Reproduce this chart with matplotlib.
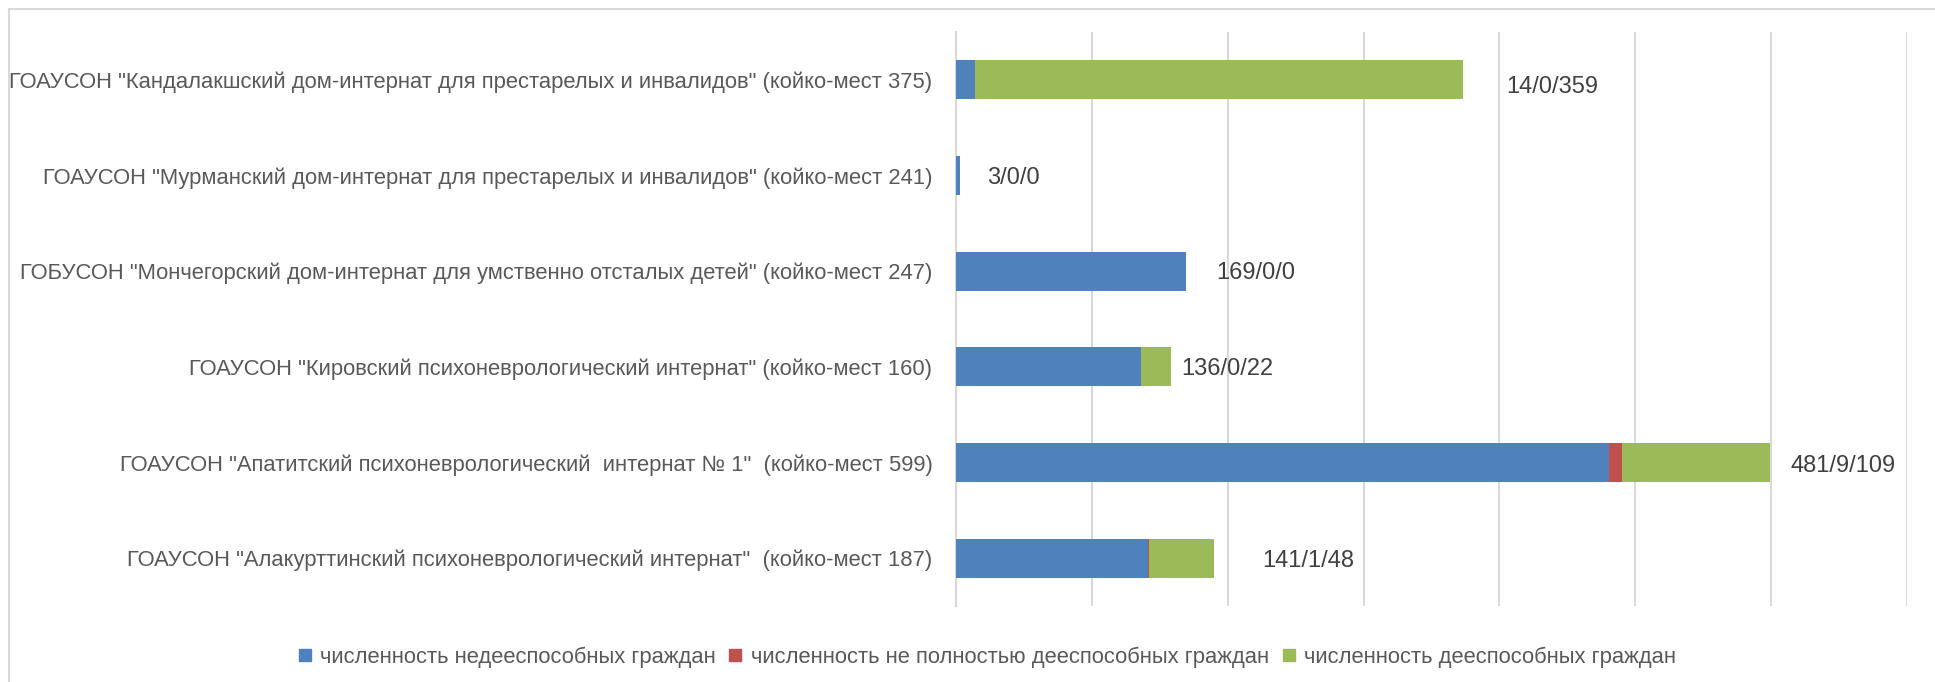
import matplotlib
matplotlib.use("Agg")
import matplotlib.pyplot as plt
from matplotlib.lines import Line2D
import numpy as np

plt.rcParams['font.family'] = ['Liberation Sans', 'DejaVu Sans']

categories = [
    'ГОАУСОН "Кандалакшский дом-интернат для престарелых и инвалидов" (койко-мест 375)',
    'ГОАУСОН "Мурманский дом-интернат для престарелых и инвалидов" (койко-мест 241)',
    'ГОБУСОН "Мончегорский дом-интернат для умственно отсталых детей" (койко-мест 247)',
    'ГОАУСОН "Кировский психоневрологический интернат" (койко-мест 160)',
    'ГОАУСОН "Апатитский психоневрологический  интернат № 1"  (койко-мест 599)',
    'ГОАУСОН "Алакурттинский психоневрологический интернат"  (койко-мест 187)',
]
incapable = [14, 3, 169, 136, 481, 141]
partly_capable = [0, 0, 0, 0, 9, 1]
capable = [359, 0, 0, 22, 109, 48]
series_names = [
    'численность недееспособных граждан',
    'численность не полностью дееспособных граждан',
    'численность дееспособных граждан',
]
colors = ['#4F81BD', '#C0504D', '#9BBB59']
# label offsets to the right of each bar end (pixels), as placed in the original
label_offsets_px = [44, 27, 31, 11, 21, 48]
label_dy_px = [-7, -2, -2, -2, -4, -3]

W, H = 1935, 682
fig = plt.figure(figsize=(W / 100, H / 100), dpi=100)
ax = fig.add_axes([956 / W, 1 - 606 / H, (1907 - 956) / W, (606 - 32) / H])

y = np.arange(len(categories))
a = np.array(incapable)
b = np.array(partly_capable)
c = np.array(capable)
bh = 0.41
ax.barh(y, a, height=bh, color=colors[0], zorder=3)
ax.barh(y, b, left=a, height=bh, color=colors[1], zorder=3)
ax.barh(y, c, left=a + b, height=bh, color=colors[2], zorder=3)

ax.set_xlim(0, 700)
ax.set_ylim(5.5, -0.5)
ax.set_xticks(np.arange(0, 701, 100))
ax.xaxis.grid(True, color='#D9D9D9', linewidth=1.5, zorder=0)
ax.tick_params(axis='x', length=0, labelbottom=False)
ax.tick_params(axis='y', length=0, pad=17, labelsize=15.8, labelcolor='#595959')
ax.set_yticks(y)
ax.set_yticklabels(categories)
for s in ['top', 'right', 'bottom']:
    ax.spines[s].set_visible(False)
ax.spines['left'].set_color('#D9D9D9')
ax.spines['left'].set_linewidth(1.5)

totals = a + b + c
for i in range(len(categories)):
    ax.annotate(f'{incapable[i]}/{partly_capable[i]}/{capable[i]}',
                xy=(totals[i], y[i]), xytext=(label_offsets_px[i], label_dy_px[i]),
                textcoords='offset pixels', ha='left', va='center',
                fontsize=17, color='#404040', zorder=4)

handles = [Line2D([0], [0], marker='s', linestyle='none', markersize=9,
                  markerfacecolor=col, markeredgecolor=col) for col in colors]
fig.legend(handles, series_names, loc='center', bbox_to_anchor=(987 / W, 1 - 657 / H),
           ncol=3, frameon=False, fontsize=15.8, labelcolor='#595959',
           handlelength=0.6, handletextpad=0.4, columnspacing=0.6)

# outer chart frame
fig.add_artist(Line2D([9 / W, 1], [1 - 9 / H, 1 - 9 / H], transform=fig.transFigure,
                      color='#D9D9D9', linewidth=1.5))
fig.add_artist(Line2D([9 / W, 9 / W], [0, 1 - 9 / H], transform=fig.transFigure,
                      color='#D9D9D9', linewidth=1.5))

fig.savefig('out.png', dpi=100, facecolor='white')
